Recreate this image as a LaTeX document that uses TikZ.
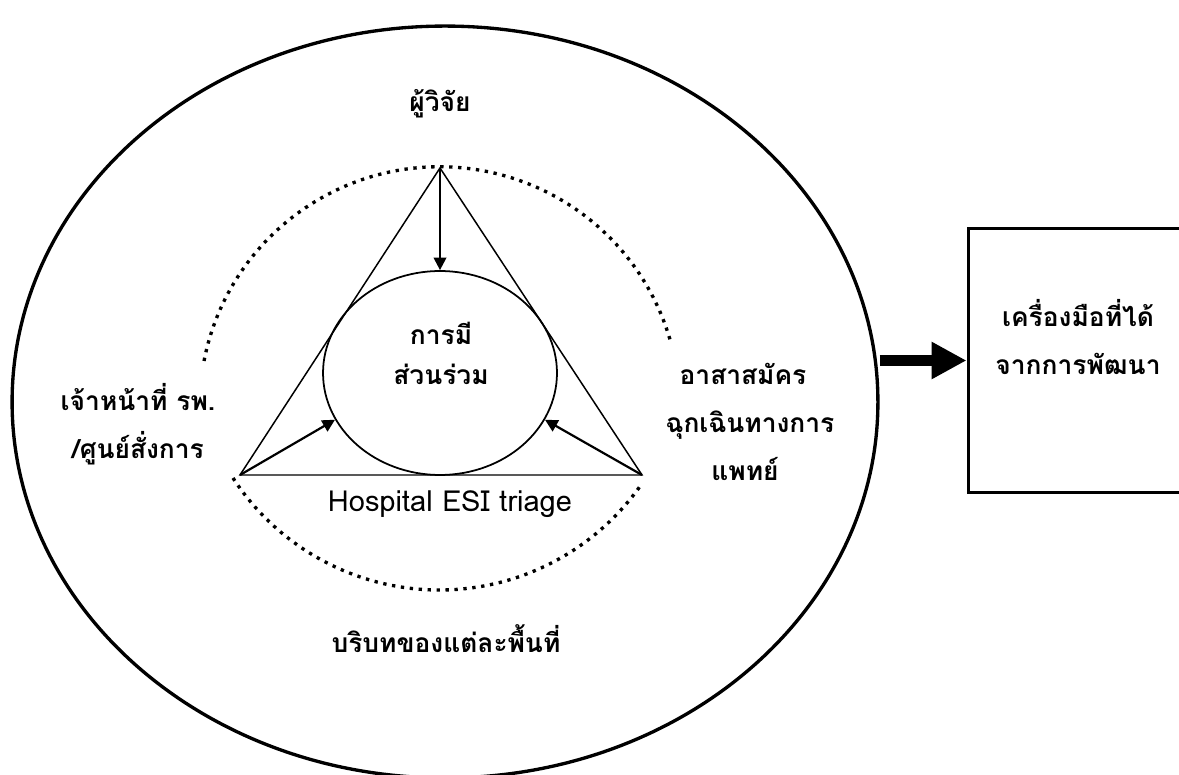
\documentclass[tikz,border=0pt]{standalone}
\usepackage{fontspec}
\setmainfont[Script=Thai]{Loma}
\usetikzlibrary{arrows.meta,shapes.geometric}
\definecolor{ink}{gray}{0.0}

\begin{document}
\begin{tikzpicture}[x=0.02cm, y=0.02cm, line width=0.85pt,
   lbl/.style={font=\bfseries\fontsize{15}{18}\selectfont, inner sep=0pt, anchor=base},
   ring/.style={ellipse, draw=ink, line width=1.9pt, minimum width=17.32cm, minimum height=15.04cm, inner sep=0pt},
   core/.style={ellipse, draw=ink, line width=1pt, minimum width=4.68cm, minimum height=4.08cm, inner sep=0pt},
   toolbox/.style={rectangle, draw=ink, line width=1.7pt, minimum width=4.64cm, minimum height=5.3cm, inner sep=0pt},
   dots/.style={draw=ink, line width=1.9pt, dash pattern=on 1.9pt off 3.2pt},
   arr/.style={draw=ink, line width=1.25pt, -{Triangle[length=2.5mm,width=2.5mm]}},
   fat/.style={draw=ink, line width=6.8pt, -{Triangle[length=7mm,width=7mm]}}]
  \useasboundingbox (0,0) rectangle (1179,774);
  % outer context and result box
  \node[ring](ctx) at (445,372){};
  \node[toolbox](tool) at (1084,413.5){};
  \node[lbl](tool1) at (1078,447){เครื่องมือที่ได้};
  \node[lbl](tool2) at (1078,399){จากการพัฒนา};
  \draw[fat] (tool.west -| ctx.east) -- (tool.west);
  % triangle of partners
  \coordinate (apex) at (440,606); \coordinate (bl) at (240,299); \coordinate (br) at (642,299);
  \draw[ink] (apex)--(bl)--(br)--cycle;
  \node[core](part) at (440,401){};
  \node[lbl](part1) at (441,429){การมี};
  \node[lbl](part2) at (441,389){ส่วนร่วม};
  \draw[arr] (apex) -- (part.north);
  \draw[arr] (bl) -- (part.204);
  \draw[arr] (br) -- (part.336);
  % dotted arcs
  \draw[dots] (204,413) arc[start angle=169, end angle=16, radius=240];
  \draw[dots] (233,296) arc[start angle=213, end angle=325, radius=246];
  % labels
  \node[lbl](res) at (440,662){ผู้วิจัย};
  \node[lbl](staff1) at (138,363){เจ้าหน้าที่ รพ.};
  \node[lbl](staff2) at (138,315){/ศูนย์สั่งการ};
  \node[lbl](vol1) at (743,389){อาสาสมัคร};
  \node[lbl](vol2) at (750,341){ฉุกเฉินทางการ};
  \node[lbl](vol3) at (745,293){แพทย์};
  \node[lbl, font=\fontsize{16.5}{20}\selectfont](esi) at (450,262){Hospital ESI triage};
  \node[lbl](area) at (446,122){บริบทของแต่ละพื้นที่};
\end{tikzpicture}
\end{document}
